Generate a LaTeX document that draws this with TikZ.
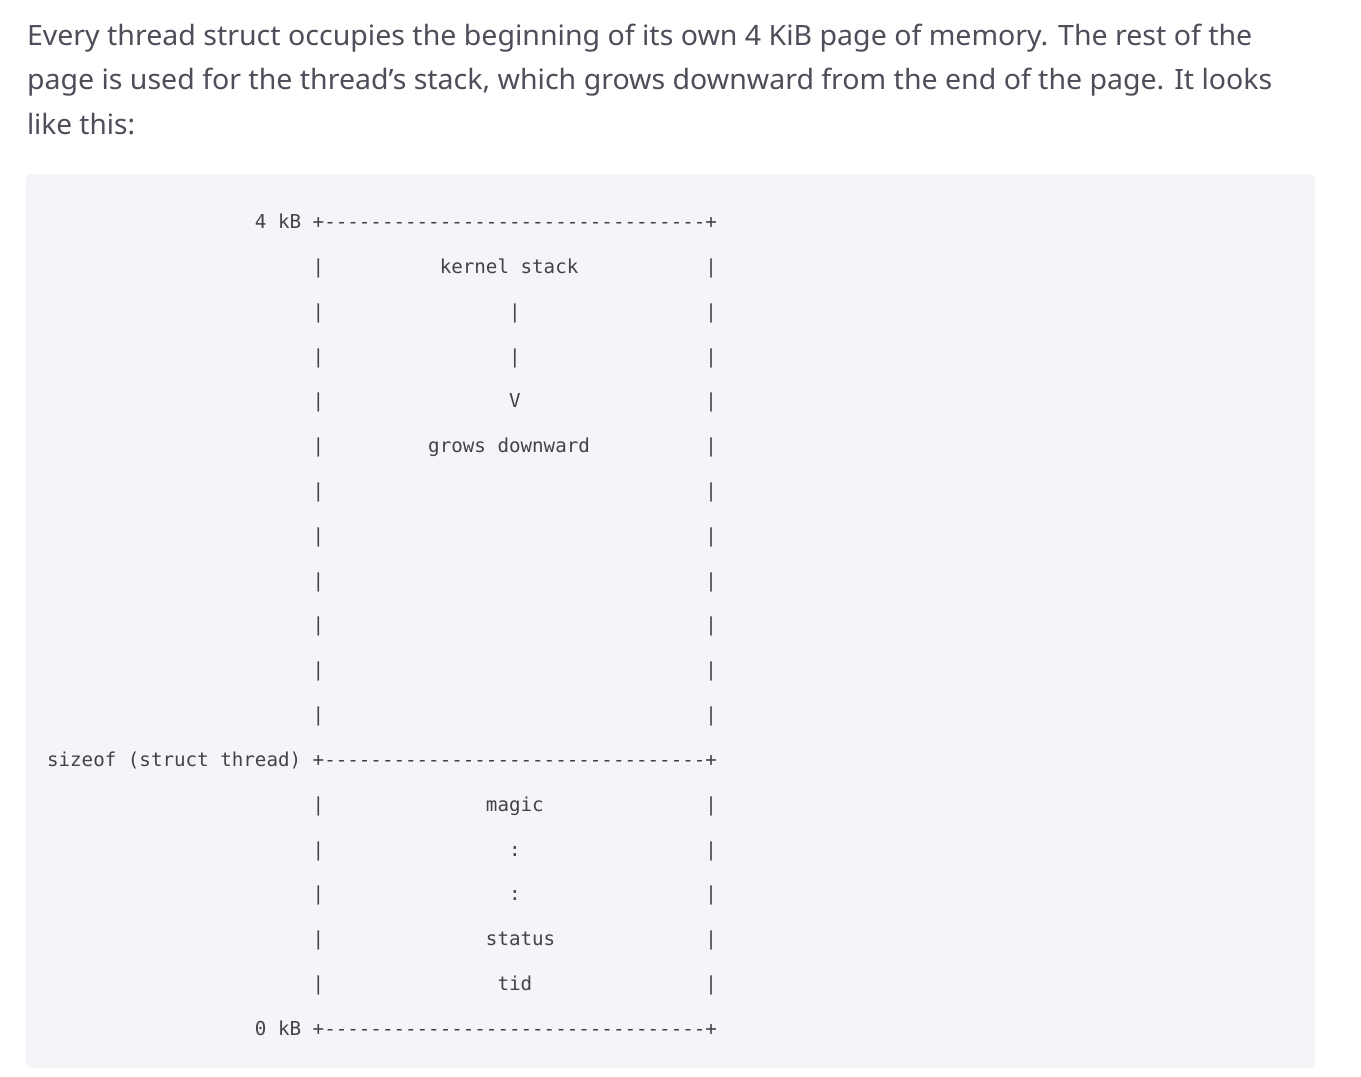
\documentclass[tikz,border=0pt]{standalone}
\usepackage{fontspec}
\usepackage{graphicx}
\setmainfont{Noto Sans}
\setmonofont{DejaVu Sans Mono}
\definecolor{codebg}{RGB}{244,245,249}
\definecolor{paracol}{RGB}{78,78,90}
\definecolor{codecol}{RGB}{66,66,74}
\newcommand{\rowy}[1]{\fpeval{221+#1*44.83+7.5}}
\newcommand{\colx}[1]{\fpeval{312.7+#1*11.55}}
\tikzset{
  para/.style={anchor=base west, inner sep=0pt, outer sep=0pt, text=paracol,
    font=\fontsize{21pt}{26pt}\selectfont},
  code/.style={anchor=base west, inner sep=0pt, outer sep=0pt, text=codecol,
    font=\fontsize{14.39pt}{17pt}\ttfamily},
}
\begin{document}
\begin{tikzpicture}[x=0.75pt,y=-0.75pt]
\useasboundingbox (0,0) rectangle (1361,1076);
\fill[white] (0,0) rectangle (1361,1076);
\fill[codebg, rounded corners=4.5pt] (26,174) rectangle (1315,1068);

% paragraph
\node[para] (p1) at (27,45) {\resizebox{919pt}{\height}{Every thread struct occupies the beginning of its own 4 KiB page of memory. The rest of the}};
\node[para] (p2) at (27,89.5) {\resizebox{934pt}{\height}{page is used for the thread’s stack, which grows downward from the end of the page. It looks}};
\node[para] (p3) at (27,134) {like this:};

% row 0
\node[code] (l0) at (\colx{-5},\rowy{0}) {4 kB};
\node[code] (t0) at (\colx{0},\rowy{0}) {+---------------------------------+};
% side bars
\foreach \r in {1,...,11,13,14,15,16,17} {
  \node[code] (bl\r) at (\colx{0},\rowy{\r}) {|};
  \node[code] (br\r) at (\colx{34},\rowy{\r}) {|};
}
\node[code] (ks) at (\colx{11},\rowy{1}) {kernel stack};
\node[code] (a2) at (\colx{17},\rowy{2}) {|};
\node[code] (a3) at (\colx{17},\rowy{3}) {|};
\node[code] (a4) at (\colx{17},\rowy{4}) {V};
\node[code] (gd) at (\colx{10},\rowy{5}) {grows downward};
% row 12
\node[code] (l12) at (\colx{-23},\rowy{12}) {sizeof (struct thread)};
\node[code] (t12) at (\colx{0},\rowy{12}) {+---------------------------------+};
\node[code] (mg) at (\colx{15},\rowy{13}) {magic};
\node[code] (d14) at (\colx{17},\rowy{14}) {:};
\node[code] (d15) at (\colx{17},\rowy{15}) {:};
\node[code] (st) at (\colx{15},\rowy{16}) {status};
\node[code] (td) at (\colx{16},\rowy{17}) {tid};
% row 18
\node[code] (l18) at (\colx{-5},\rowy{18}) {0 kB};
\node[code] (t18) at (\colx{0},\rowy{18}) {+---------------------------------+};
\end{tikzpicture}
\end{document}
